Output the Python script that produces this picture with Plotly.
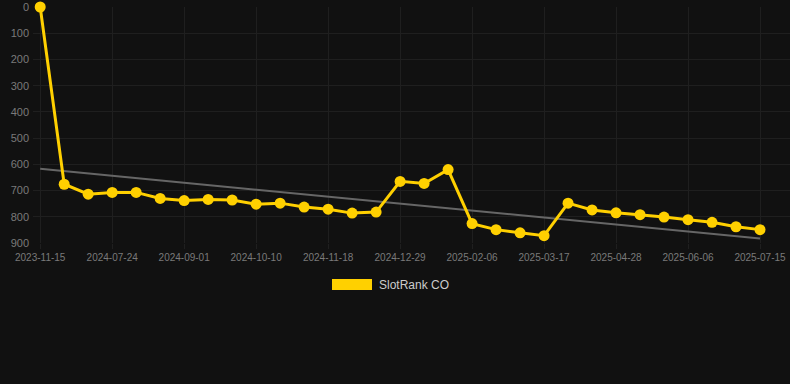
import plotly.graph_objects as go

dates = [
    "2023-11-15", "2024-06-28", "2024-07-11", "2024-07-24", "2024-08-06", "2024-08-19",
    "2024-09-01", "2024-09-14", "2024-09-27", "2024-10-10", "2024-10-23", "2024-11-05",
    "2024-11-18", "2024-12-01", "2024-12-15", "2024-12-29", "2025-01-11", "2025-01-24",
    "2025-02-06", "2025-02-19", "2025-03-04", "2025-03-17", "2025-03-31", "2025-04-14",
    "2025-04-28", "2025-05-11", "2025-05-24", "2025-06-06", "2025-06-19", "2025-07-02",
    "2025-07-15",
]
ranks = [
    0, 676, 714, 707, 707, 730, 738, 734, 736, 752, 748, 763, 771, 786, 782,
    665, 673, 620, 826, 849, 861, 872, 748, 774, 785, 792, 801, 811, 821, 838, 849,
]
trend_dates = ["2023-11-15", "2025-07-15"]
trend_values = [617, 883]
tick_labels = dates[::3]
y_ticks = [0, 100, 200, 300, 400, 500, 600, 700, 800, 900]
series_name = "SlotRank CO"

fig = go.Figure()
fig.add_trace(go.Scatter(
    x=trend_dates, y=trend_values, mode="lines",
    line=dict(color="#666666", width=2), hoverinfo="skip", showlegend=False,
))
fig.add_trace(go.Scatter(
    x=dates, y=ranks, mode="lines+markers", name=series_name,
    line=dict(color="#FFD000", width=3),
    marker=dict(color="#FFD000", size=11),
    cliponaxis=False, showlegend=False,
))

W, H = 790, 384
L, R, T, B = 33, 0, 7, 141
pw, ph = W - L - R, H - T - B

def px_x(p):
    return (p - L) / pw

def px_y(p):
    return (H - B - p) / ph

fig.add_shape(type="rect", xref="paper", yref="paper",
              x0=px_x(332), x1=px_x(372), y0=px_y(290), y1=px_y(279),
              fillcolor="#FFD000", line=dict(width=0))
fig.add_annotation(xref="paper", yref="paper", x=px_x(377), y=px_y(284.5),
                   text=series_name, showarrow=False, xanchor="left", yanchor="middle",
                   font=dict(family="Arial, Liberation Sans, sans-serif", size=12, color="#cccccc"))

fig.update_layout(
    width=W, height=H,
    margin=dict(l=L, r=R, t=T, b=B),
    paper_bgcolor="#111111", plot_bgcolor="#111111",
    font=dict(family="Arial, Liberation Sans, sans-serif", color="#7a7a7a"),
    showlegend=False,
    xaxis=dict(
        type="category", range=[-0.3, 31.25],
        categoryorder="array", categoryarray=dates,
        tickmode="array", tickvals=tick_labels, ticktext=tick_labels,
        showgrid=True, gridcolor="#1f1f1f", gridwidth=1,
        ticks="outside", ticklen=5, tickcolor="#1f1f1f",
        tickfont=dict(size=10, color="#7a7a7a"),
        zeroline=False, showline=False,
    ),
    yaxis=dict(
        range=[900, 0], tickvals=y_ticks,
        showgrid=True, gridcolor="#1f1f1f", gridwidth=1,
        tickfont=dict(size=11, color="#7a7a7a"),
        zeroline=False, showline=False, ticks="", ticklabelstandoff=3,
    ),
)
fig.write_html("out.html", config={"displayModeBar": False},
               post_script="document.body.style.margin='0';document.body.style.overflow='hidden';document.body.style.background='#111111';")
